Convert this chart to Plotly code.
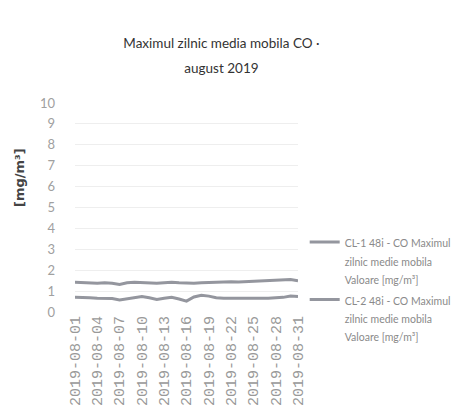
import plotly.graph_objects as go
import pandas as pd

dates = pd.date_range("2019-08-01", "2019-08-31", freq="D").strftime("%Y-%m-%d").tolist()

cl1_values = [1.42, 1.40, 1.38, 1.38, 1.40, 1.38, 1.32, 1.40, 1.42, 1.40,
              1.38, 1.38, 1.40, 1.42, 1.40, 1.38, 1.38, 1.40, 1.42, 1.42,
              1.44, 1.45, 1.44, 1.46, 1.48, 1.50, 1.50, 1.52, 1.55, 1.55, 1.50]
cl2_values = [0.70, 0.70, 0.68, 0.66, 0.66, 0.64, 0.58, 0.64, 0.70, 0.74,
              0.68, 0.60, 0.66, 0.70, 0.62, 0.52, 0.72, 0.80, 0.76, 0.68,
              0.66, 0.66, 0.65, 0.64, 0.64, 0.66, 0.66, 0.68, 0.70, 0.76, 0.74]

legend_lines = [
    ["CL-1 48i - CO Maximul", "zilnic medie mobila", "Valoare [mg/m³]"],
    ["CL-2 48i - CO Maximul", "zilnic medie mobila", "Valoare [mg/m³]"],
]
title_lines = ["Maximul zilnic media mobila CO ·", "august 2019"]
tick_dates = dates[::3]


def spaced(lines, px):
    return "<br>".join(f"<span style='font-size:{px}px'>{t}</span>" for t in lines)


fig = go.Figure()
for lines, vals in zip(legend_lines, [cl1_values, cl2_values]):
    fig.add_trace(go.Scatter(x=dates, y=vals, mode="lines", name=spaced(lines, 10.5),
                             line=dict(color="#94969e", width=3)))

fig.update_layout(
    width=464, height=418,
    paper_bgcolor="white", plot_bgcolor="white",
    margin=dict(l=67, r=174, t=95, b=114),
    title=dict(text=spaced(title_lines, 13.5),
               x=0.46, xanchor="center", y=1 - 40 / 418, yanchor="middle",
               font=dict(family="Lato", size=19, color="#333333")),
    xaxis=dict(type="category", tickvals=tick_dates, ticktext=tick_dates,
               tickangle=-90, showgrid=False, zeroline=False, showline=False,
               ticks="", tickfont=dict(family="Liberation Mono", size=15, color="#999999")),
    yaxis=dict(range=[0, 10], dtick=1, showgrid=True, gridcolor="#eeeeee",
               zeroline=False, showline=False, ticks="", ticklabelstandoff=19,
               tickfont=dict(family="Lato", size=13, color="#a0a0a0")),
    legend=dict(x=1.03, xanchor="left", y=0.41, yanchor="top",
                valign="top", itemwidth=30,
                font=dict(family="Lato", size=14, color="#8a8a8a")),
    showlegend=True,
)
fig.add_annotation(text="<b>[mg/m³]</b>", textangle=-90, xref="paper", yref="paper",
                   x=(11 - 67) / 223, xanchor="center", y=1 - (170 - 95) / 209,
                   yanchor="middle", showarrow=False,
                   font=dict(family="DejaVu Sans", size=13, color="#444444"))

fig.write_html("out.html")
